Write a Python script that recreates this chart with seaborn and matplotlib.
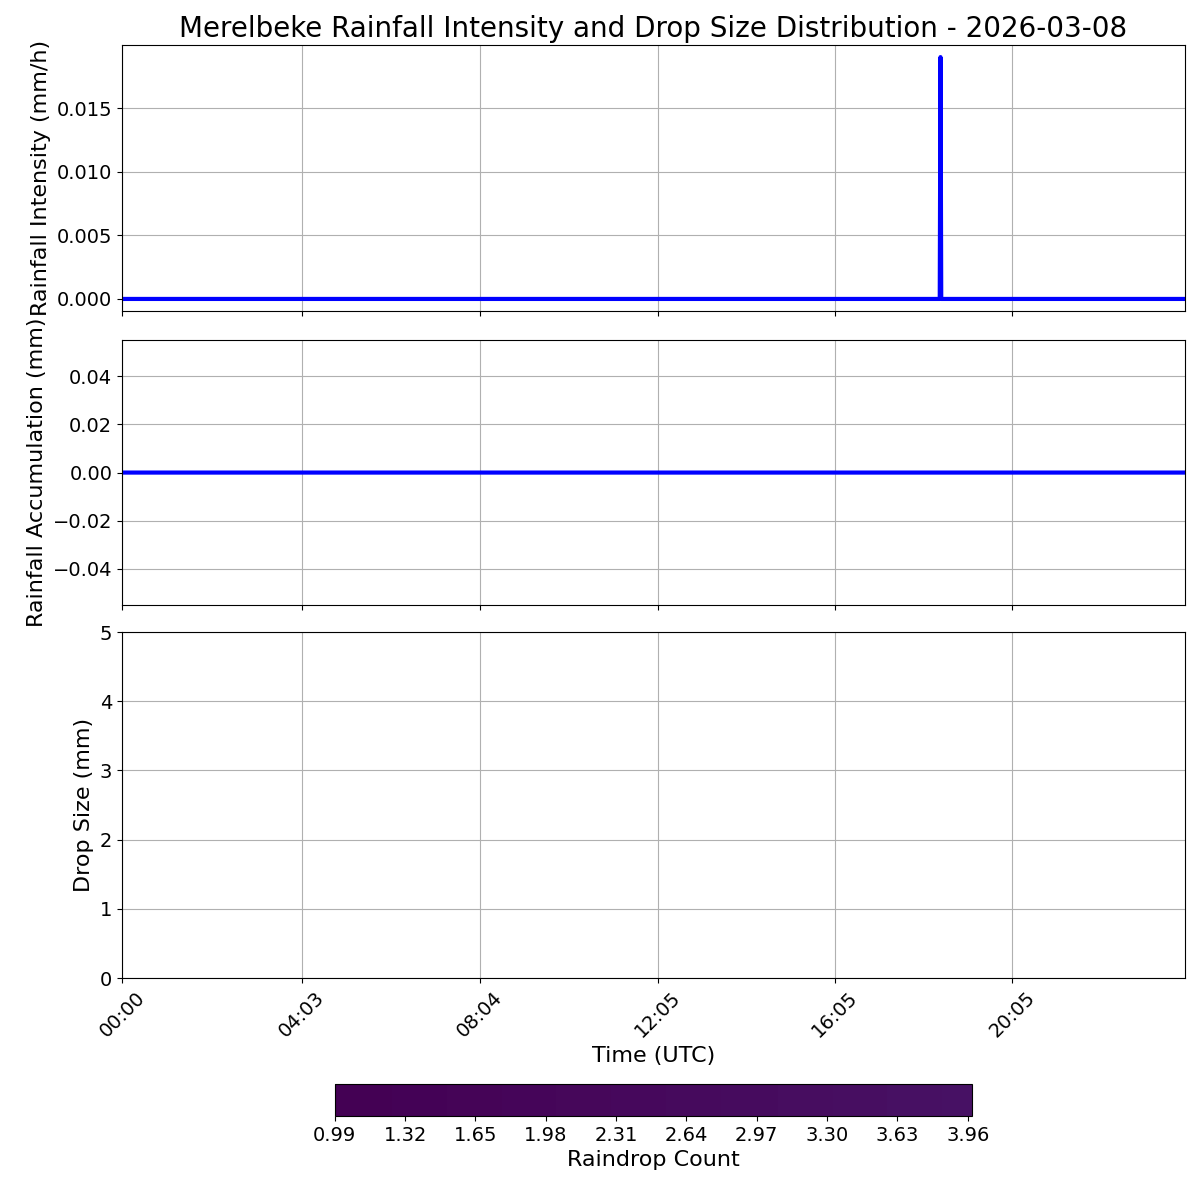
import numpy as np
import pandas as pd
import matplotlib
matplotlib.use("Agg")
import matplotlib.pyplot as plt
import matplotlib.dates as mdates
from matplotlib.colors import ListedColormap, Normalize
import seaborn as sns

# data: one reading per minute over the day, dry except one short spike
day = "2026-03-08"
times = pd.date_range(f"{day} 00:00", f"{day} 23:59", freq="1min")
intensity = np.zeros(len(times))          # mm/h
accumulation = np.zeros(len(times))       # mm
spike_time = "18:28"
spike_value = 0.019
tick_labels = ["00:00", "04:03", "08:04", "12:05", "16:05", "20:05"]
count_ticks = [0.99, 1.32, 1.65, 1.98, 2.31, 2.64, 2.97, 3.30, 3.63, 3.96]
count_range = [0.99, 3.98]
drop_size_max = 5

intensity[times.get_loc(pd.Timestamp(f"{day} {spike_time}"))] = spike_value
tick_times = [pd.Timestamp(f"{day} {t}") for t in tick_labels]

fig = plt.figure(figsize=(12, 12), dpi=100)
ax1 = fig.add_axes([0.1017, 0.7408, 0.8858, 0.2217])
ax2 = fig.add_axes([0.1017, 0.4958, 0.8858, 0.2208], sharex=ax1)
ax3 = fig.add_axes([0.1017, 0.185, 0.8858, 0.2883], sharex=ax1)
cax = fig.add_axes([0.279, 0.07, 0.531, 0.0267])

sns.lineplot(x=times, y=intensity, ax=ax1, color="blue", linewidth=3)
sns.lineplot(x=times, y=accumulation, ax=ax2, color="blue", linewidth=3)

ax1.set_ylabel("Rainfall Intensity (mm/h)", fontsize=16)
ax2.set_ylabel("Rainfall Accumulation (mm)", fontsize=16)
ax3.set_ylabel("Drop Size (mm)", fontsize=16)
ax1.set_xlabel("")
ax2.set_xlabel("")
ax3.set_xlabel("Time (UTC)", fontsize=16)
ax1.set_title(f"Merelbeke Rainfall Intensity and Drop Size Distribution - {day}", fontsize=20)

ax1.set_ylim(-0.00095, 0.01995)
ax2.set_ylim(-0.055, 0.055)
ax3.set_ylim(0, drop_size_max)
ax3.set_xlim(times[0], times[-1])

for ax in (ax1, ax2, ax3):
    ax.grid(True, color="#b0b0b0", linewidth=0.8)
    ax.tick_params(labelsize=14)
    ax.set_xticks(tick_times)
    ax.xaxis.set_major_formatter(mdates.DateFormatter("%H:%M"))
ax1.tick_params(labelbottom=False)
ax2.tick_params(labelbottom=False)
plt.setp(ax3.get_xticklabels(), rotation=45, ha="center")

# drop size distribution is empty for the day; keep its colour scale
cmap = ListedColormap(plt.get_cmap("viridis")(np.linspace(0, 0.045, 256)))
sm = plt.cm.ScalarMappable(norm=Normalize(*count_range), cmap=cmap)
cb = fig.colorbar(sm, cax=cax, orientation="horizontal", ticks=count_ticks)
cb.ax.set_xticklabels([f"{t:.2f}" for t in count_ticks])
cb.ax.tick_params(labelsize=14)
cb.set_label("Raindrop Count", fontsize=16)

fig.savefig("out.png", dpi=100)
